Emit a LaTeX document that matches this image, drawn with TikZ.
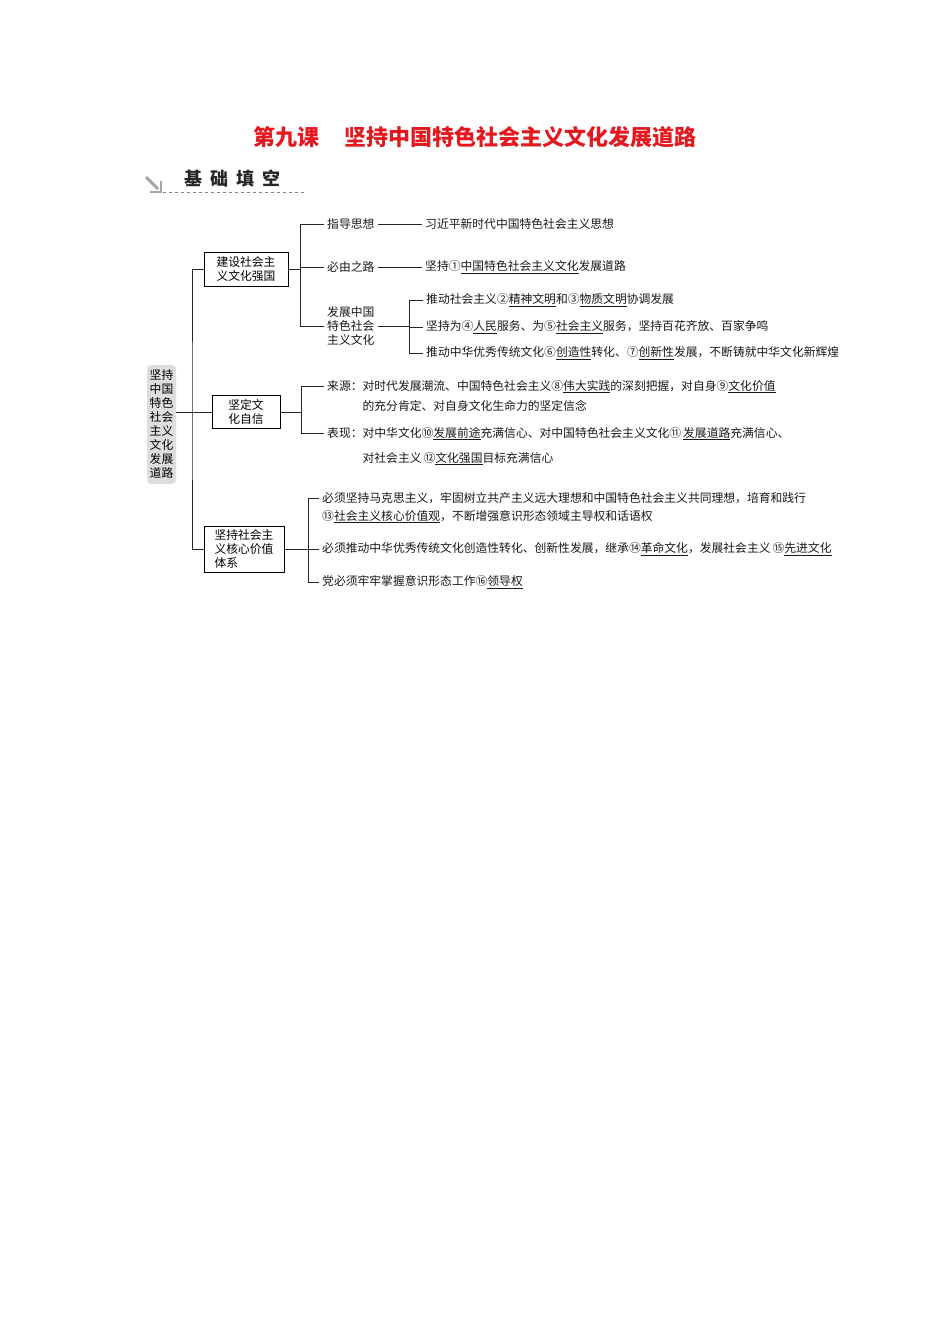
\documentclass[tikz,border=0pt]{standalone}
\usepackage{fontspec}
\setmainfont{Noto Sans CJK SC}
\definecolor{titlered}{RGB}{228,24,30}
\newcommand{\fillin}[1]{\underline{#1}}
\newcommand{\cnum}[1]{\makebox[1em]{#1}}

\begin{document}
\begin{tikzpicture}[x=1pt,y=-1pt,
		txt/.style={anchor=west,inner sep=3pt,font=\fontsize{11.8}{14}\selectfont,text=black!90},
		par/.style={txt,anchor=north west,align=left},
		box/.style={draw,line width=0.9pt,align=center,inner sep=2pt,font=\fontsize{11.8}{14}\selectfont},
		link/.style={line width=0.9pt,black!85}]
			\useasboundingbox (0,0) rectangle (950,1344);
			\fill[white] (0,0) rectangle (950,1344);
			\node[text=titlered,font=\fontsize{22}{26}\selectfont\bfseries] (title) at (475,137) {第九课\hspace{1.1em}坚持中国特色社会主义文化发展道路};
			\node[anchor=west,inner sep=0pt,text=black!85,font=\fontsize{18}{20}\selectfont\bfseries] (basic) at (184,179) {基\hspace{8pt}础\hspace{8pt}填\hspace{8pt}空};
			\draw[black!35,line width=3pt] (146,177) -- (158,189);
			\draw[black!35,line width=2.5pt] (150,192) -- (161,192) -- (161,181);
			\draw[black!50,dashed] (163,192) -- (305,192);
			\node[fill=black!13,rounded corners=4pt,minimum width=29pt,minimum height=119pt,inner sep=2pt,align=center,font=\fontsize{11.8}{14}\selectfont] (root) at (161.5,424.5) {坚持\\中国\\特色\\社会\\主义\\文化\\发展\\道路};
			\node[box,minimum width=84pt,minimum height=34pt] (strong) at (246,269) {建设社会主\\义文化强国};
			\node[box,minimum width=68pt,minimum height=33pt] (confid) at (246,412) {坚定文\\化自信};
			\node[box,minimum width=80pt,minimum height=46pt,align=left] (values) at (244,549) {坚持社会主\\义核心价值\\体系};
			\coordinate (trunk) at (192,412);
			\draw[link] (strong.west) -| (trunk) |- (values.west);
			\draw[link] (root.east |- confid.west) -- (confid.west);
			\node[txt] (guide) at (324,224) {指导思想};
			\node[txt] (road) at (324,267) {必由之路};
			\node[txt,align=left] (develop) at (324,326) {发展中国\\特色社会\\主义文化};
			\node[txt] (guidex) at (422,224) {习近平新时代中国特色社会主义思想};
			\node[txt] (roadx) at (422,267) {坚持\cnum{①}\fillin{中国特色社会主义文化}发展道路};
			\node[txt] (devA) at (423,300) {推动社会主义\cnum{②}\fillin{精神文明}和\cnum{③}\fillin{物质文明}协调发展};
			\node[txt] (devB) at (423,327) {坚持为\cnum{④}\fillin{人民}服务、为\cnum{⑤}\fillin{社会主义}服务，坚持百花齐放、百家争鸣};
			\node[txt] (devC) at (423,353) {推动中华优秀传统文化\cnum{⑥}\fillin{创造性}转化、\cnum{⑦}\fillin{创新性}发展，不断铸就中华文化新辉煌};
			\coordinate (j1) at (300,269);
			\coordinate (j3) at (409,326);
			\draw[link] (strong.east) -- (j1);
			\draw[link] (j1) |- (guide.west);
			\draw[link] (j1) |- (road.west);
			\draw[link] (j1) |- (develop.west);
			\draw[link] (guide.east) -- (guidex.west);
			\draw[link] (road.east) -- (roadx.west);
			\draw[link] (develop.east) -- (j3);
			\draw[link] (j3) |- (devA.west);
			\draw[link] (j3) |- (devB.west);
			\draw[link] (j3) |- (devC.west);
			\node[par] (source) at (324,377) {来源：对时代发展潮流、中国特色社会主义\cnum{⑧}\fillin{伟大实践}的深刻把握，对自身\cnum{⑨}\fillin{文化价值}\\[6.5pt]\hspace*{3em}的充分肯定、对自身文化生命力的坚定信念};
			\node[par] (show) at (324,424) {表现：对中华文化\cnum{⑩}\fillin{发展前途}充满信心、对中国特色社会主义文化\cnum{⑪}\,\fillin{发展道路}充满信心、\\[11pt]\hspace*{3em}对社会主义\,\cnum{⑫}\fillin{文化强国}目标充满信心};
			\coordinate (j2) at (301,412);
			\draw[link] (confid.east) -- (j2);
			\draw[link] (j2) |- ([yshift=-9pt]source.north west);
			\draw[link] (j2) |- ([yshift=-9pt]show.north west);
			\node[par] (hold) at (319,489) {必须坚持马克思主义，牢固树立共产主义远大理想和中国特色社会主义共同理想，培育和践行\\[4pt]\cnum{⑬}\fillin{社会主义核心价值观}，不断增强意识形态领域主导权和话语权};
			\node[txt] (inherit) at (319,549) {必须推动中华优秀传统文化创造性转化、创新性发展，继承\cnum{⑭}\fillin{革命文化}，发展社会主义\,\cnum{⑮}\fillin{先进文化}};
			\node[txt] (lead) at (319,582) {党必须牢牢掌握意识形态工作\cnum{⑯}\fillin{领导权}};
			\coordinate (j4) at (308,549);
			\draw[link] (values.east) -- (j4);
			\draw[link] (j4) |- ([yshift=-9pt]hold.north west);
			\draw[link] (j4) |- (inherit.west);
			\draw[link] (j4) |- (lead.west);
		\end{tikzpicture}
\end{document}
